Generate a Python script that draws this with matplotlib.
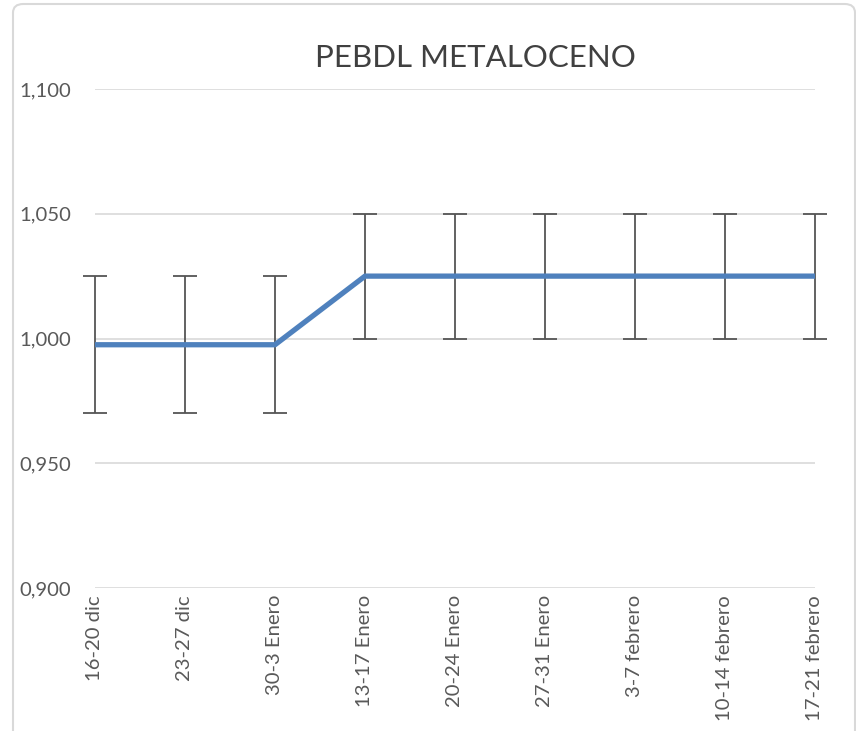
import matplotlib.pyplot as plt
from matplotlib.patches import FancyBboxPatch
from matplotlib.ticker import FuncFormatter

weeks = ['16-20 dic', '23-27 dic', '30-3 Enero', '13-17 Enero', '20-24 Enero',
         '27-31 Enero', '3-7 febrero', '10-14 febrero', '17-21 febrero']
price = [0.9975, 0.9975, 0.9975, 1.025, 1.025, 1.025, 1.025, 1.025, 1.025]
spread = [0.0275, 0.0275, 0.0275, 0.025, 0.025, 0.025, 0.025, 0.025, 0.025]

W, H = 856, 731
plt.rcParams['font.family'] = ['Lato', 'DejaVu Sans']
fig = plt.figure(figsize=(W / 100, H / 100), dpi=100)

# chart frame (rounded, cut off at right/bottom like the screenshot)
frame = FancyBboxPatch((13 / W, 1 - 760 / H), (855 - 13) / W, (760 - 4) / H,
                       boxstyle='round,pad=0,rounding_size=0.012',
                       transform=fig.transFigure, facecolor='white',
                       edgecolor='#d9d9d9', linewidth=1.5, zorder=-5)
fig.patches.append(frame)

ax = fig.add_axes([95 / W, 1 - 588 / H, (815 - 95) / W, (588 - 89) / H])
ax.set_facecolor('none')
ax.set_zorder(2)

x = range(len(weeks))
ax.errorbar(x, price, yerr=spread, fmt='none', ecolor='#555555',
            elinewidth=1.3, capsize=8.5, capthick=1.3, zorder=3, clip_on=False)
ax.plot(x, price, color='#4f81bd', linewidth=3.8, zorder=4,
        solid_capstyle='butt', clip_on=False)

ax.set_xlim(0, len(weeks) - 1)
ax.set_ylim(0.9, 1.1)
ax.set_yticks([0.9, 0.95, 1.0, 1.05, 1.1])
ax.yaxis.set_major_formatter(FuncFormatter(lambda v, p: f'{v:.3f}'.replace('.', ',')))
ax.grid(axis='y', color='#d9d9d9', linewidth=1.2)
ax.set_axisbelow(True)

ax.set_xticks(list(x))
ax.set_xticklabels(weeks, rotation=90, ha='center', va='top')

for s in ax.spines.values():
    s.set_visible(False)
ax.tick_params(axis='both', length=0, colors='#595959', labelsize=14.6)
ax.tick_params(axis='y', pad=17)
ax.tick_params(axis='x', pad=5)

# title is centred on the whole chart box, not the plot area
ax.set_title('PEBDL METALOCENO', fontsize=22.5, color='#404040', pad=16, x=0.529)

fig.savefig('out.png', dpi=100)
